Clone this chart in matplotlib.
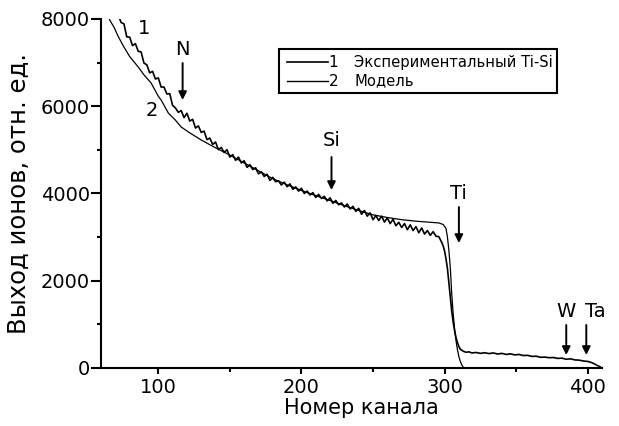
import numpy as np
import matplotlib
matplotlib.use('Agg')
import matplotlib.pyplot as plt
from matplotlib.patches import Rectangle
from matplotlib.ticker import MultipleLocator

plt.rcParams['font.family'] = ['DejaVu Sans']

exp_channel = [72, 74, 76, 78, 80, 82, 84, 86, 88, 90, 92, 94, 96, 98, 100,
               102, 104, 106, 108, 110, 112, 114, 116, 118, 120, 122, 124, 126, 128, 130,
               132, 134, 136, 138, 140, 142, 144, 146, 148, 150, 152, 154, 156, 158, 160,
               162, 164, 166, 168, 170, 172, 174, 176, 178, 180, 182, 184, 186, 188, 190,
               192, 194, 196, 198, 200, 202, 204, 206, 208, 210, 212, 214, 216, 218, 220,
               222, 224, 226, 228, 230, 232, 234, 236, 238, 240, 242, 244, 246, 248, 250,
               252, 254, 256, 258, 260, 262, 264, 266, 268, 270, 272, 274, 276, 278, 280,
               282, 284, 286, 288, 290, 292, 294, 296, 298,
               299, 300, 301, 302, 303, 304, 305, 306, 307, 308, 309, 310, 311, 313, 315,
               317, 319, 322, 325, 328, 331, 334, 337, 340, 343, 346, 349, 352, 355, 358,
               361, 364, 367, 370, 373, 376, 379, 382, 385, 388, 391, 394, 397, 400, 403,
               406, 409]
exp_counts = [8100, 7920, 7890, 7590, 7585, 7390, 7435, 7260, 7245, 6990, 6950, 6765, 6800, 6625, 6650,
              6440, 6440, 6280, 6290, 6020, 5960, 5860, 5900, 5740, 5840, 5660, 5700, 5500, 5550, 5400,
              5430, 5235, 5270, 5125, 5180, 5005, 5055, 4940, 5005, 4835, 4890, 4760, 4835, 4700, 4750,
              4600, 4660, 4550, 4590, 4450, 4495, 4390, 4440, 4300, 4370, 4270, 4290, 4195, 4260, 4155,
              4220, 4095, 4150, 4055, 4120, 4000, 4055, 3965, 4020, 3910, 3980, 3885, 3935, 3830, 3900,
              3775, 3840, 3740, 3785, 3690, 3760, 3645, 3705, 3590, 3660, 3525, 3610, 3480, 3555, 3400,
              3495, 3380, 3480, 3345, 3440, 3310, 3410, 3260, 3340, 3220, 3310, 3170, 3280, 3150, 3240,
              3100, 3210, 3070, 3150, 3040, 3125, 3020, 3010, 2880,
              2800, 2680, 2500, 2280, 1950, 1600, 1300, 1050, 850, 700, 580, 490, 430, 385, 360,
              370, 345, 355, 335, 350, 330, 345, 320, 335, 310, 325, 300, 310, 285, 290,
              265, 270, 245, 250, 235, 240, 220, 225, 200, 210, 185, 180, 160, 150, 120,
              70, 20]

# Model spectrum (curve 2)
model_channel = [65, 66, 69, 72, 76, 80, 86, 90, 95, 100, 102, 107, 112, 116, 122,
                 130, 139, 150, 160, 170, 180, 190, 200, 210, 220, 230, 240, 250, 260, 270,
                 280, 290, 296, 299, 301, 302, 303, 304, 305, 306, 307, 308, 309, 310, 311,
                 312, 313, 314]
model_counts = [8100, 7980, 7816, 7600, 7357, 7140, 6899, 6720, 6532, 6230, 6143, 5845, 5680, 5524, 5390,
                5226, 5065, 4880, 4700, 4520, 4340, 4200, 4070, 3950, 3840, 3720, 3610, 3510, 3450, 3400,
                3365, 3340, 3325, 3290, 3200, 3000, 2700, 2300, 1700, 1250, 900, 620, 420, 260, 150,
                70, 20, 0]

# Element markers: label, channel
elements = ['N', 'Si', 'Ti', 'W', 'Ta']
element_channel = [117, 221, 310, 385, 399]

fig = plt.figure(figsize=(6.19, 4.26), dpi=100)
ax = fig.add_axes([0.1632, 0.1362, 0.8094, 0.8192])

ax.plot(exp_channel, exp_counts, color='black', lw=1.2)
ax.plot(model_channel, model_counts, color='black', lw=0.9)

ax.set_xlim(60, 410)
ax.set_ylim(0, 8000)
ax.xaxis.set_major_locator(MultipleLocator(100))
ax.xaxis.set_minor_locator(MultipleLocator(50))
ax.yaxis.set_major_locator(MultipleLocator(2000))
ax.yaxis.set_minor_locator(MultipleLocator(1000))

for s in ['top', 'right']:
    ax.spines[s].set_visible(False)
for s in ['left', 'bottom']:
    ax.spines[s].set_linewidth(1.5)

ax.tick_params(axis='x', which='major', direction='out', length=4, width=1.5, labelsize=14, pad=3)
ax.tick_params(axis='x', which='minor', direction='out', length=3, width=1.5)
ax.tick_params(axis='y', which='major', direction='out', length=7, width=1.5, labelsize=14, pad=1)
ax.tick_params(axis='y', which='minor', direction='out', length=3, width=1.5)

ax.set_xlabel('Номер канала', fontsize=15)
ax.xaxis.set_label_coords(0.52, -0.085)
ax.set_ylabel('Выход ионов, отн. ед.', fontsize=17.5)
ax.yaxis.set_label_coords(-0.14, 0.5)

# curve numbers
ax.text(90, 7790, '1', fontsize=14, ha='center', va='center')
ax.text(95.6, 5910, '2', fontsize=14, ha='center', va='center')

# element arrows
arrow_top = [6990, 4836, 3690, 985, 985]
arrow_tip = [6143, 4080, 2865, 298, 298]
text_x = [117, 221, 310, 385, 405]
text_y = [7290, 5226, 4011, 1306, 1306]
for el, ch, y0, y1, tx, ty in zip(elements, element_channel, arrow_top, arrow_tip, text_x, text_y):
    ax.annotate('', xy=(ch, y1), xytext=(ch, y0),
                arrowprops=dict(arrowstyle='-|>', color='black', lw=1.4,
                                mutation_scale=12, shrinkA=0, shrinkB=0))
    ax.text(tx, ty, el, fontsize=14, ha='center', va='center')

# legend box drawn by hand
ax.add_patch(Rectangle((0.355, 0.788), 0.555, 0.126, transform=ax.transAxes,
                       fill=False, lw=1.5, edgecolor='black'))
ax.plot([0.371, 0.453], [0.876, 0.876], color='black', lw=1.2, transform=ax.transAxes)
ax.plot([0.371, 0.453], [0.822, 0.822], color='black', lw=1.0, transform=ax.transAxes)
ax.text(0.454, 0.876, '1', fontsize=11, ha='left', va='center', transform=ax.transAxes)
ax.text(0.454, 0.822, '2', fontsize=11, ha='left', va='center', transform=ax.transAxes)
ax.text(0.505, 0.876, 'Экспериментальный Ti-Si', fontsize=10.6, ha='left', va='center',
        transform=ax.transAxes)
ax.text(0.505, 0.822, 'Модель', fontsize=10.6, ha='left', va='center', transform=ax.transAxes)

fig.savefig('out.png', dpi=100)
